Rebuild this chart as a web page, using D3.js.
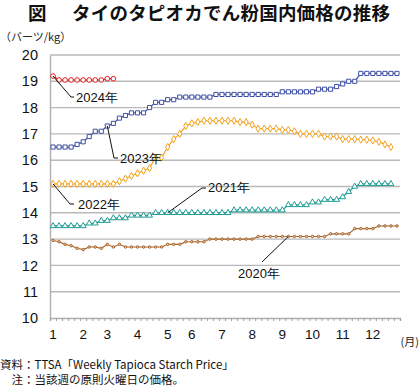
<!DOCTYPE html>
<html><head><meta charset="utf-8">
<script src="https://cdn.jsdelivr.net/npm/d3@7"></script>
<style>
body{margin:0;background:#fff;}
svg{display:block;}
</style></head>
<body>
<svg id="c" width="420" height="387"></svg>
<script>
// ---- data ----
const monthLabels = ["1","2","3","4","5","6","7","8","9","10","11","12"];
const monthIndex = [0,5,9,14,19,23,28,33,38,43,48,53];
const nWeeks = 58;
const yTicks = [10,11,12,13,14,15,16,17,18,19,20];

const s2020 = [12.95,12.9,12.8,12.75,12.65,12.6,12.7,12.7,12.65,12.8,12.7,12.8,12.7,
  12.7,12.7,12.7,12.7,12.7,12.7,
  12.8,12.8,12.8,
  12.9,12.9,12.9,12.9,
  13.0,13.0,13.0,13.0,13.0,13.0,13.0,13.0,
  13.1,13.1,13.1,13.1,13.1,13.1,13.1,13.1,13.1,13.1,13.1,13.1,
  13.2,13.2,13.2,13.2,
  13.4,13.4,13.4,13.4,
  13.5,13.5,13.5,13.5];
const s2021 = [13.5,13.5,13.5,13.5,13.5,13.5,13.6,13.6,13.7,13.7,13.8,13.8,13.8,
  13.9,13.9,13.9,13.9,
  14.0,14.0,14.0,14.0,14.0,14.0,14.0,14.0,14.0,14.0,14.0,14.0,14.0,
  14.1,14.1,14.1,14.1,14.1,14.1,14.1,14.1,14.1,
  14.3,14.3,14.3,14.3,14.4,14.4,14.5,14.5,14.5,14.6,14.8,15.0,
  15.1,15.1,15.1,15.1,15.1,15.1];
const s2022 = [15.1,15.1,15.1,15.1,15.1,15.1,15.1,15.1,15.1,15.1,15.1,
  15.2,15.3,15.4,15.5,15.6,15.7,16.1,16.1,16.5,16.8,17.0,17.3,17.4,17.45,
  17.5,17.5,17.5,17.5,17.5,17.5,17.45,17.45,17.35,17.2,17.2,17.2,17.2,
  17.15,17.15,17.1,17.0,17.0,17.0,17.0,16.9,16.9,16.9,16.8,16.8,16.8,16.78,16.78,16.75,16.7,16.6,16.5];
const s2023 = [16.5,16.5,16.5,16.5,16.6,16.7,16.9,17.1,17.1,17.3,17.4,17.6,17.7,17.8,17.8,17.8,
  18.0,18.2,18.2,18.3,18.3,
  18.4,18.4,18.4,18.4,18.4,18.4,
  18.5,18.5,18.5,18.5,18.5,18.5,18.5,18.5,18.5,18.5,18.5,
  18.6,18.6,18.6,18.6,18.6,18.6,
  18.7,18.7,18.7,18.8,18.9,19.0,19.0,
  19.3,19.3,19.3,19.3,19.3,19.3,19.3];
const s2024 = [19.2,19.05,19.05,19.05,19.05,19.05,19.05,19.05,19.05,19.1,19.1];

// ---- layout ----
const svg = d3.select("#c");
const L = 50, R = 400, T = 55, B = 318;
const x = d3.scaleBand().domain(d3.range(nWeeks)).range([L, R]);
const xc = i => x(i) + x.bandwidth()/2;
const xt = d3.scaleLinear().domain([0, nWeeks]).range([L, R]);
const y = d3.scaleLinear().domain([10, 20]).range([B, T]);
const num = "Arial, 'Liberation Sans', sans-serif";
const jp = "'Noto Sans CJK JP', sans-serif";

// title
svg.append("text").attr("x", 28).attr("y", 20).attr("font-family", jp).attr("font-weight", "bold")
  .attr("font-size", 18.5).attr("fill", "#111").text("図");
svg.append("text").attr("x", 72).attr("y", 20).attr("font-family", jp).attr("font-weight", "bold")
  .attr("font-size", 18.5).attr("fill", "#111").attr("textLength", 318).attr("lengthAdjust","spacing")
  .text("タイのタピオカでん粉国内価格の推移");
// unit
svg.append("text").attr("x", 0).attr("y", 41).attr("font-family", jp).attr("font-size", 11)
  .attr("fill", "#222").text("（バーツ/kg）");

// gridlines
svg.append("g").selectAll("line").data(yTicks.filter(v => v > 10)).join("line")
  .attr("x1", L).attr("x2", R).attr("y1", d => y(d)).attr("y2", d => y(d))
  .attr("stroke", "#b9b9b9").attr("stroke-width", 1.4);

// y axis
const ya = svg.append("g").attr("transform", `translate(${L},0)`)
  .call(d3.axisLeft(y).tickValues(yTicks).tickSize(0).tickPadding(12).tickFormat(d3.format("d")));
ya.select(".domain").attr("stroke", "#b0b0b0").attr("stroke-width", 1.4);
ya.selectAll("text").attr("font-family", num).attr("font-size", 14.5).attr("fill", "#111");

// x axis
const xa = svg.append("g").attr("transform", `translate(0,${B})`)
  .call(d3.axisBottom(xt).tickValues(d3.range(nWeeks + 1)).tickSize(3).tickFormat(""));
xa.select(".domain").attr("stroke", "#b0b0b0").attr("stroke-width", 1.4);
xa.selectAll(".tick line").attr("stroke", "#a0a0a0");
svg.append("g").selectAll("text").data(monthLabels).join("text")
  .attr("x", (d, i) => xc(monthIndex[i])).attr("y", 339).attr("text-anchor", "middle")
  .attr("font-family", num).attr("font-size", 13.5).attr("fill", "#111").text(d => d);
svg.append("text").attr("x", 419).attr("y", 346).attr("text-anchor", "end").attr("font-family", jp).attr("font-size", 11)
  .attr("fill", "#222").text("(月)");

// series
const line = d3.line().x((d, i) => xc(i)).y(d => y(d));
function series(data, color, shape, size, fill, lw) {
  const g = svg.append("g");
  g.append("path").datum(data).attr("d", line).attr("fill", "none")
    .attr("stroke", color).attr("stroke-width", lw);
  g.selectAll("path.m").data(data).join("path").attr("class", "m")
    .attr("transform", (d, i) => `translate(${xc(i)},${y(d)})`)
    .attr("d", d3.symbol().type(shape).size(size))
    .attr("fill", fill).attr("stroke", color).attr("stroke-width", 1);
}
series(s2020, "#a5652e", d3.symbolCircle, 5, "#f3c79b", 1.1);
series(s2021, "#1e9c94", d3.symbolTriangle, 15, "#fff", 1.2);
series(s2022, "#f4a21a", d3.symbolDiamond, 15, "#fff", 1.2);
series(s2023, "#3e4fa5", d3.symbolSquare, 17, "#fff", 1.2);
series(s2024, "#e3191c", d3.symbolCircle, 17, "#fff", 1.2);

// annotations
function note(pts, tx, ty, label) {
  svg.append("polyline").attr("points", pts.map(p => p.join(",")).join(" "))
    .attr("fill", "none").attr("stroke", "#111").attr("stroke-width", 1);
  svg.append("text").attr("x", tx).attr("y", ty).attr("font-family", num).attr("font-size", 13)
    .attr("fill", "#111").text(label);
}
note([[xc(0), y(s2024[0])], [71, 97], [74, 97]], 76, 102, "2024年");
note([[xc(9), y(s2023[9])], [114, 158], [118, 158]], 120, 163, "2023年");
note([[xc(0), y(s2022[0])], [70, 204], [74, 204]], 78, 209, "2022年");
note([[xc(19), y(s2021[19])], [202, 188], [206, 188]], 208, 192, "2021年");
note([[262, 262], [xc(39), y(s2020[39])]], 238, 278, "2020年");

// footer
svg.append("text").attr("x", 0).attr("y", 369).attr("font-family", jp).attr("font-size", 11.5)
  .attr("fill", "#111").text("資料：TTSA「Weekly Tapioca Starch Price」");
svg.append("text").attr("x", 0).attr("y", 384).attr("font-family", jp).attr("font-size", 11.5)
  .attr("fill", "#111").text("　注：当該週の原則火曜日の価格。");
</script>
</body></html>
